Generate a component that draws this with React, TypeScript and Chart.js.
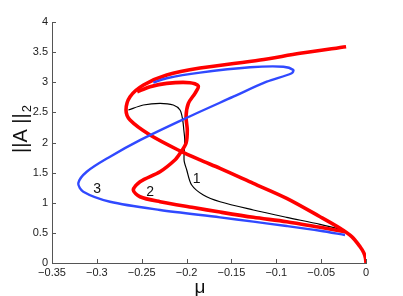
import React, { useEffect, useRef } from "react";
import { Chart, registerables } from "chart.js";

Chart.register(...registerables);

// Curve 1 (black, thin)
const curve1X = [-0.0234, -0.0253, -0.0512, -0.0884, -0.1256, -0.1627, -0.1813, -0.1943, -0.1998, -0.2028, -0.2020, -0.2030, -0.2043, -0.2073, -0.2148, -0.2296, -0.2482, -0.2649];
const curve1Y = [0.535, 0.548, 0.642, 0.758, 0.88, 1.017, 1.129, 1.295, 1.544, 1.71, 2.04, 2.2, 2.373, 2.539, 2.622, 2.65, 2.622, 2.539];

// Curve 2 (red, thick, inner loop)
const curve2X = [-0.0234, -0.0512, -0.0884, -0.1256, -0.1627, -0.1924, -0.2296, -0.2519, -0.2594, -0.2519, -0.2296, -0.2130, -0.2073, -0.2006, -0.1992, -0.2006, -0.1980, -0.1906, -0.1869, -0.1962, -0.2221, -0.2407, -0.2550];
const curve2Y = [0.52, 0.592, 0.686, 0.758, 0.845, 0.92, 1.017, 1.10, 1.21, 1.35, 1.515, 1.71, 1.82, 1.987, 2.207, 2.428, 2.65, 2.817, 2.938, 2.993, 2.982, 2.926, 2.84];

// Curve 3 (blue)
const curve3X = [-0.0234, -0.0512, -0.0884, -0.1256, -0.1627, -0.2296, -0.2853, -0.3151, -0.3207, -0.3113, -0.2853, -0.2519, -0.2036, -0.1479, -0.1107, -0.0828, -0.0810, -0.0921, -0.1293, -0.1850, -0.2221, -0.2371];
const curve3Y = [0.465, 0.536, 0.614, 0.686, 0.758, 0.88, 1.017, 1.183, 1.323, 1.515, 1.765, 2.04, 2.385, 2.76, 3.009, 3.149, 3.203, 3.258, 3.248, 3.159, 3.066, 2.993];

// Main red curve (thick)
const mainX = [0, -0.0006, -0.0025, -0.0066, -0.0159, -0.0289, -0.0512, -0.0884, -0.1256, -0.1627, -0.1850, -0.2073, -0.2407, -0.2630, -0.2675, -0.2630, -0.2480, -0.2221, -0.1850, -0.1181, -0.0735, -0.0222];
const mainY = [0, 0.08, 0.17, 0.27, 0.437, 0.576, 0.768, 1.073, 1.322, 1.571, 1.71, 1.86, 2.124, 2.373, 2.539, 2.76, 2.954, 3.12, 3.235, 3.369, 3.48, 3.59];

const xTicks = [-0.35, -0.3, -0.25, -0.2, -0.15, -0.1, -0.05, 0];
const yTicks = [0, 0.5, 1, 1.5, 2, 2.5, 3, 3.5, 4];

const curveLabels = ["1", "2", "3"];
const labelX = [-0.1887, -0.2406, -0.2997];
const labelY = [1.394, 1.176, 1.232];

const FONT = "'Liberation Sans', Arial, Helvetica, sans-serif";

function pts(xs: number[], ys: number[]) {
  return xs.map((x, i) => ({ x, y: ys[i] }));
}

function fmt(v: number) {
  const r = Math.round(v * 100) / 100;
  return String(r).replace("-", "\u2212");
}

const decorPlugin = {
  id: "decor",
  afterDraw(chart: any) {
    const ctx = chart.ctx;
    const xs = chart.scales.x;
    const ys = chart.scales.y;
    const area = chart.chartArea;
    ctx.save();
    // inward ticks
    ctx.strokeStyle = "#555";
    ctx.lineWidth = 1;
    ctx.beginPath();
    xTicks.forEach((t) => {
      const px = Math.round(xs.getPixelForValue(t)) + 0.5;
      ctx.moveTo(px, area.bottom);
      ctx.lineTo(px, area.bottom - 4);
    });
    yTicks.forEach((t) => {
      const py = Math.round(ys.getPixelForValue(t)) + 0.5;
      ctx.moveTo(area.left, py);
      ctx.lineTo(area.left + 4, py);
    });
    ctx.stroke();

    // curve labels
    ctx.fillStyle = "#111";
    ctx.font = `14px ${FONT}`;
    ctx.textAlign = "center";
    ctx.textBaseline = "middle";
    curveLabels.forEach((l, i) => {
      ctx.fillText(l, xs.getPixelForValue(labelX[i]), ys.getPixelForValue(labelY[i]));
    });

    // x title
    ctx.font = `19px ${FONT}`;
    ctx.fillText("\u03bc", (area.left + area.right) / 2 - 9, 288);

    // y title
    ctx.translate(21, 153);
    ctx.rotate(-Math.PI / 2);
    ctx.textAlign = "left";
    ctx.font = `20px ${FONT}`;
    const main = "||A ||";
    ctx.fillText(main, 0, 0);
    const w = ctx.measureText(main).width;
    ctx.font = `13px ${FONT}`;
    ctx.fillText("2", w + 1, 6);
    ctx.restore();
  },
};

export default function App() {
  const ref = useRef<HTMLCanvasElement>(null);
  useEffect(() => {
    document.body.style.margin = "0";
    const line = (data: any, color: string, width: number) => ({
      data,
      borderColor: color,
      backgroundColor: color,
      borderWidth: width,
      showLine: true,
      pointRadius: 0,
      tension: 0.3,
      fill: false,
    });
    const chart = new Chart(ref.current!, {
      type: "scatter",
      data: {
        datasets: [
          line(pts(curve3X, curve3Y), "#3049ff", 2.4),
          line(pts(mainX, mainY), "#ff0000", 3.6),
          line(pts(curve2X, curve2Y), "#ff0000", 3.6),
          line(pts(curve1X, curve1Y), "#000000", 1.2),
        ],
      },
      options: {
        responsive: false,
        animation: false,
        events: [],
        layout: { padding: { top: 22, right: 37, left: 0, bottom: 0 } },
        plugins: { legend: { display: false }, tooltip: { enabled: false } },
        scales: {
          x: {
            type: "linear",
            min: -0.35,
            max: 0,
            afterBuildTicks: (s: any) => {
              s.ticks = xTicks.map((v) => ({ value: v }));
            },
            afterFit: (s: any) => {
              s.height = 33;
            },
            grid: { display: false, drawTicks: false },
            border: { display: true, color: "#555", width: 1 },
            ticks: {
              padding: 3,
              color: "#222",
              font: { family: FONT, size: 11 },
              callback: (v: any) => fmt(Number(v)),
              maxRotation: 0,
              autoSkip: false,
            },
          },
          y: {
            type: "linear",
            min: 0,
            max: 4,
            afterBuildTicks: (s: any) => {
              s.ticks = yTicks.map((v) => ({ value: v }));
            },
            afterFit: (s: any) => {
              s.width = 52;
            },
            grid: { display: false, drawTicks: false },
            border: { display: true, color: "#555", width: 1 },
            ticks: {
              padding: 4,
              color: "#222",
              font: { family: FONT, size: 11 },
              callback: (v: any) => fmt(Number(v)),
              autoSkip: false,
            },
          },
        },
      },
      plugins: [decorPlugin],
    });
    return () => chart.destroy();
  }, []);
  return <canvas ref={ref} width={403} height={296} style={{ display: "block" }} />;
}
